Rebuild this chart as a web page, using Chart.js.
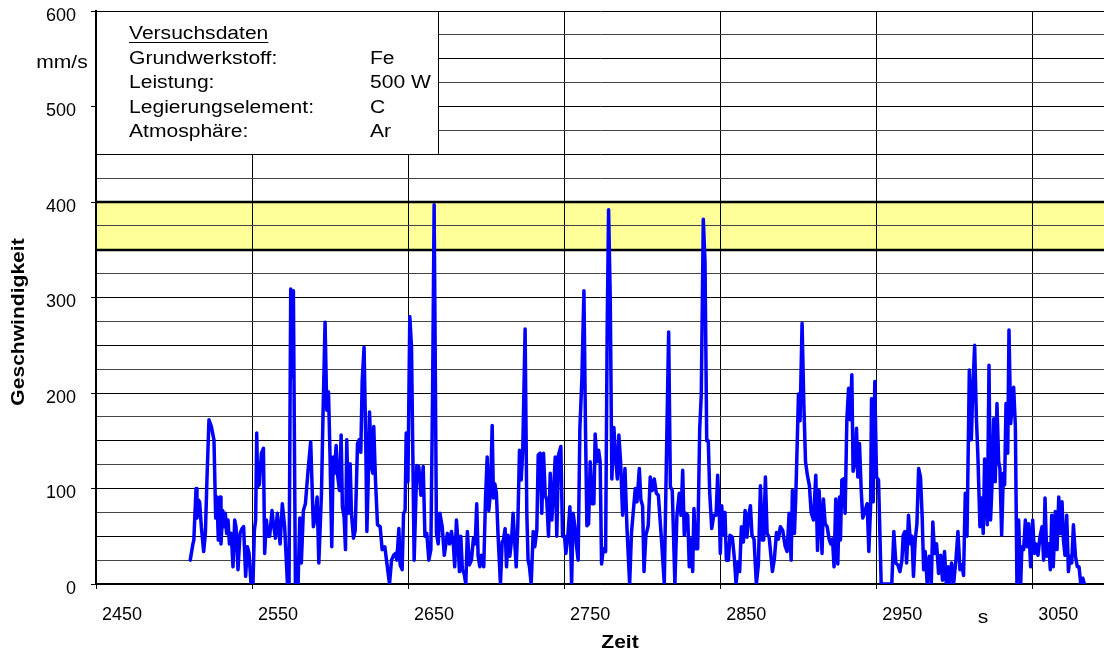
<!DOCTYPE html>
<html>
<head>
<meta charset="utf-8">
<script src="https://cdn.jsdelivr.net/npm/chart.js@4.4.1/dist/chart.umd.min.js"></script>
<style>
  html, body { margin: 0; padding: 0; background: #ffffff; }
  #wrap { width: 1104px; height: 653px; }
</style>
</head>
<body>
<div id="wrap"><canvas id="c" width="1104" height="653"></canvas></div>
<script>
// ---------- data ----------
const times = [
2510.4,2512.1,2512.7,2514.1,2514.7,2515.6,2516.4,2517.5,2519.0,2520.1,2521.1,2522.4,2523.9,2525.6,2526.7,2527.5,2528.4,2529.5,2530.1,2531.2,
2532.0,2532.9,2533.7,2534.6,2535.5,2536.7,2537.8,2538.9,2539.7,2541.0,2542.3,2543.6,2544.6,2545.9,2547.0,2548.1,2549.3,2550.6,2551.5,2552.3,
2553.0,2553.6,2554.7,2556.0,2557.3,2558.1,2559.2,2560.3,2561.3,2562.8,2563.7,2565.0,2566.2,2568.0,2569.4,2570.9,2572.7,2573.7,2574.8,2575.6,
2576.5,2577.8,2579.5,2580.6,2581.6,2582.9,2584.2,2585.9,2587.6,2589.3,2590.6,2591.7,2592.8,
2594.5,2595.5,2596.8,2597.9,2599.0,2600.0,2601.1,2602.0,2602.8,2603.9,2604.7,2606.0,2607.1,2607.9,2609.0,2609.9,2610.7,2611.8,2612.9,2613.7,
2615.0,2616.1,2617.6,2618.6,2619.7,2620.6,2621.8,2622.9,2623.6,2624.4,2625.3,2626.5,2627.4,2628.0,2629.1,2630.4,2632.1,2633.4,2635.1,2636.4,
2638.1,2639.4,2640.7,2641.9,2642.8,2644.1,2644.9,2646.2,2647.1,2648.1,2648.8,2649.9,2651.1,2652.2,2653.9,2655.6,2656.9,2658.2,2659.7,2660.8,
2662.0,2663.3,2664.6,2665.7,2666.7,2668.2,2669.3,2670.4,2671.9,2673.2,
2675.2,2676.5,2677.8,2679.1,2679.9,2681.0,2682.1,2682.9,2683.8,2684.8,2685.9,2687.0,2688.0,2689.3,2690.6,2691.9,2693.0,2694.0,2694.9,2696.0,
2697.0,2698.5,2699.6,2700.7,2701.7,2702.8,2703.9,2704.7,2705.6,2706.6,2707.7,2709.2,2710.3,2711.1,2712.2,2713.1,2714.1,2715.2,2716.3,2717.3,
2718.4,2719.3,2720.3,2721.4,2722.5,2723.5,2725.0,2726.1,2726.9,2727.8,2728.9,2730.2,2731.2,2732.5,2733.4,2734.6,2735.7,2736.8,2737.9,2738.9,
2740.0,2741.1,2742.1,2743.2,2744.3,2745.3,2746.4,2747.9,2749.0,2750.3,2751.1,2752.2,2753.7,2754.8,2755.8,2756.9,
2758.0,2759.0,2760.1,2761.4,2762.7,2763.7,2764.6,2765.7,2766.7,2768.0,2769.1,2769.9,2771.0,2772.1,2773.1,2774.0,2775.1,2776.6,2777.6,2778.5,
2779.6,2780.6,2781.9,2783.0,2784.1,2785.1,2786.2,2787.5,2789.0,2790.3,2792.0,2793.2,2794.5,2795.6,2796.7,2798.2,2799.2,2800.3,2801.2,2802.4,
2803.9,2805.2,2806.5,2807.8,2809.1,2810.4,2812.5,2814.2,2815.9,2817.0,2818.1,2819.3,2821.0,2822.3,2823.8,2824.9,2826.0,2827.0,2828.1,2829.2,
2830.2,2831.3,2832.4,2833.2,2834.3,2835.6,2836.9,2837.9,2839.2,2840.3,
2841.4,2842.4,2843.3,2844.6,2845.9,2847.4,2848.4,2849.5,2850.1,2851.0,2852.1,2853.1,2854.0,2855.3,2856.3,2857.8,2859.1,2860.2,2861.5,2862.5,
2863.6,2864.9,2866.0,2867.2,2868.3,2869.4,2870.4,2871.7,2873.2,2874.5,2875.8,2877.1,2877.9,2879.0,2880.1,2881.4,2883.5,2884.8,2886.1,2887.3,
2888.6,2890.1,2891.6,2892.9,2894.2,2895.5,2896.3,2897.6,2898.5,2899.3,2900.2,2901.2,2902.5,2903.6,2904.7,2905.9,2907.2,2908.3,2909.8,2911.3,
2912.4,2913.4,2914.5,2915.3,2916.2,2917.3,2918.6,2919.8,2920.9,2922.0,2923.0,2924.1,2925.4,2926.5,
2927.1,2928.0,2929.0,2930.1,2931.2,2932.3,2933.3,2934.4,2935.2,2936.5,2937.4,2938.2,2939.3,2940.4,2941.4,2942.9,2944.2,2945.3,2946.4,2947.0,
2948.1,2949.1,2950.2,2951.5,2953.2,2955.8,2957.9,2960.0,2961.3,2962.6,2963.9,2965.2,2966.5,2967.3,2968.4,2969.5,2970.7,2972.0,2972.9,2973.9,
2975.0,2976.1,2977.2,2978.4,2979.5,2980.4,2981.4,2982.7,2984.0,2985.3,2986.3,2987.4,2988.7,2990.0,2991.3,2992.5,2993.8,2994.9,2996.0,2997.0,
2998.3,2999.6,3001.1,3002.4,3003.7,3004.9,3006.0,3007.1,3008.2,
3009.7,3011.0,3011.8,3013.1,3014.2,3015.2,3016.5,3017.6,3018.6,3019.5,3020.4,3021.2,3022.3,3023.3,3024.2,3025.3,3026.3,3027.4,3028.5,3029.3,
3030.4,3031.5,3032.3,3033.2,3034.3,3035.1,3036.2,3037.0,3038.1,3039.2,3040.2,3041.3,3042.6,3043.4,3044.5,3045.6,3046.7,3047.7,3049.0,3050.3,
3051.4,3052.4,3053.7,3055.0,3056.3,3057.3,3058.2,3059.3,3060.6,3061.6,3062.5,3063.5,3064.8,3065.9,3067.0,3068.0,3069.1,3070.0,3071.0,3072.1,
3073.2,3074.2,3075.3,3076.4,3077.7,3078.9,3080.0,3081.1,3082.4,3083.4
];
const speeds = [
25,42,46,100,69,88,86,60,34,53,109,172,165,151,69,91,46,91,42,77,
60,74,53,67,42,53,18,67,60,15,53,58,60,8,39,32,1,0,56,67,
158,102,104,137,142,32,67,50,50,77,63,48,74,42,84,60,0,0,309,217,
307,0,0,69,22,77,84,119,149,60,70,91,22,
95,178,274,182,201,133,39,133,116,145,116,98,156,81,70,36,151,74,126,74,
48,56,147,151,138,213,248,147,55,105,180,123,116,165,109,62,60,36,39,22,
0,25,30,32,25,58,20,15,74,77,158,107,280,248,25,124,123,93,123,50,
53,25,36,199,397,53,42,74,60,30,
53,42,55,39,18,67,42,13,50,15,11,0,55,20,25,48,42,84,29,18,
30,18,88,133,77,95,166,90,105,95,50,0,44,46,58,18,51,29,46,74,
42,18,60,140,109,140,267,74,25,18,0,55,39,56,135,137,74,137,93,88,
50,116,67,95,133,50,135,144,50,50,32,46,81,0,74,60,
39,25,163,215,307,163,61,63,128,84,84,157,128,140,128,21,37,34,267,392,
295,110,164,133,110,156,128,72,121,58,0,54,79,100,86,121,88,82,13,51,
61,112,98,110,95,93,44,0,163,264,102,98,0,72,95,72,119,51,74,72,
18,47,13,79,37,37,163,198,382,337,
150,150,96,58,72,72,114,72,32,82,51,75,25,25,51,49,27,0,23,13,
60,44,77,49,72,82,51,47,0,20,103,46,46,112,53,49,13,27,54,47,
60,56,40,34,74,25,98,53,93,142,199,171,273,191,128,114,103,75,67,114,
35,98,65,32,89,63,60,47,42,47,18,89,21,91,
46,109,110,74,172,205,172,219,118,128,163,112,147,98,69,77,84,34,81,194,
86,212,112,109,0,0,0,0,55,22,20,13,25,51,55,22,72,42,50,8,
46,63,121,112,69,15,34,0,29,0,65,32,42,11,30,4,34,0,18,0,
22,0,25,55,15,20,9,95,50,
224,151,199,250,175,133,60,90,53,131,109,62,229,67,102,173,107,189,128,121,
51,116,104,189,137,266,168,185,206,165,0,67,0,39,36,67,39,63,18,67,
32,42,30,50,60,25,90,29,42,15,72,18,76,36,91,53,86,46,30,72,
13,29,22,62,29,18,18,0,6,0
];
const xTickValues = [2450, 2550, 2650, 2750, 2850, 2950, 3050];
const yGridValues = [0,25,50,75,100,125,150,175,200,225,250,275,300,325,350,375,400,425,450,475,500,525,550,575,600];
const yLabelValues = [0, 100, 200, 300, 400, 500, 600];
const bandLow = 350;
const bandHigh = 400;
const xMin = 2450, xMax = 3096;
const yUnit = 'mm/s';
const xUnit = 's';
const xTitle = 'Zeit';
const yTitle = 'Geschwindigkeit';
const legendTitle = 'Versuchsdaten';
const legendLabels = ['Grundwerkstoff:', 'Leistung:', 'Legierungselement:', 'Atmosphäre:'];
const legendValues = ['Fe', '500 W', 'C', 'Ar'];

// ---------- drawing ----------
const FONT = '"Liberation Sans", Arial, Helvetica, sans-serif';
const STRETCH = 1.17;

function stretchText(ctx, text, x, y, sx, align, font) {
  ctx.save();
  ctx.font = font;
  ctx.translate(x, y);
  ctx.scale(sx, 1);
  ctx.textAlign = align;
  ctx.textBaseline = 'alphabetic';
  ctx.fillStyle = '#000';
  ctx.fillText(text, 0, 0);
  ctx.restore();
}

const decoPlugin = {
  id: 'deco',
  beforeDraw(chart) {
    const {ctx, chartArea: a, scales: {y}} = chart;
    const y1 = y.getPixelForValue(bandHigh), y2 = y.getPixelForValue(bandLow);
    ctx.save();
    ctx.fillStyle = '#FFFF99';
    ctx.fillRect(a.left, y1, a.right - a.left, y2 - y1);
    ctx.restore();
  },
  beforeDatasetsDraw(chart) {
    const {ctx, chartArea: a, scales: {y}} = chart;
    ctx.save();
    ctx.strokeStyle = '#000';
    ctx.lineWidth = 2.5;
    [bandHigh, bandLow].forEach(v => {
      const py = Math.round(y.getPixelForValue(v));
      ctx.beginPath();
      ctx.moveTo(a.left, py);
      ctx.lineTo(a.right, py);
      ctx.stroke();
    });
    ctx.restore();

    // legend box
    const bx = a.left, by = a.top, bw = 438 - a.left, bh = 154 - a.top;
    ctx.save();
    ctx.fillStyle = '#fff';
    ctx.fillRect(bx, by, bw, bh);
    ctx.strokeStyle = '#000';
    ctx.lineWidth = 1;
    ctx.strokeRect(bx + 0.5, by + 0.5, bw, bh);
    ctx.restore();

    const f = '18px ' + FONT;
    stretchText(ctx, legendTitle, 129, 39, STRETCH, 'left', f);
    ctx.save();
    ctx.font = f;
    const w = ctx.measureText(legendTitle).width * STRETCH;
    ctx.strokeStyle = '#000';
    ctx.lineWidth = 1.2;
    ctx.beginPath();
    ctx.moveTo(129, 42.5);
    ctx.lineTo(129 + w, 42.5);
    ctx.stroke();
    ctx.restore();
    legendLabels.forEach((lab, i) => {
      const base = 64 + i * 24.4;
      stretchText(ctx, lab, 129, base, STRETCH, 'left', f);
      stretchText(ctx, legendValues[i], 370, base, STRETCH, 'left', f);
    });
  },
  afterDraw(chart) {
    const {ctx} = chart;
    const f = '18px ' + FONT;
    stretchText(ctx, yUnit, 62, 68, STRETCH, 'center', f);
    stretchText(ctx, xUnit, 983, 623, STRETCH, 'center', f);
    stretchText(ctx, xTitle, 620, 648, STRETCH, 'center', 'bold 18px ' + FONT);
    ctx.save();
    ctx.translate(24, 322);
    ctx.rotate(-Math.PI / 2);
    stretchText(ctx, yTitle, 0, 0, STRETCH, 'center', 'bold 18px ' + FONT);
    ctx.restore();
  }
};

const ctxEl = document.getElementById('c');
new Chart(ctxEl, {
  type: 'line',
  data: {
    datasets: [{
      data: times.map((t, i) => ({x: t, y: speeds[i]})),
      borderColor: '#0000FF',
      borderWidth: 3.5,
      pointRadius: 0,
      tension: 0,
      fill: false,
      borderJoinStyle: 'round',
      borderCapStyle: 'round'
    }]
  },
  options: {
    responsive: false,
    animation: false,
    devicePixelRatio: 1,
    layout: { padding: { top: 11, right: 0, left: 0, bottom: 0 } },
    plugins: { legend: { display: false }, tooltip: { enabled: false }, title: { display: false } },
    scales: {
      x: {
        type: 'linear',
        min: xMin,
        max: xMax,
        afterBuildTicks: s => { s.ticks = xTickValues.map(v => ({value: v})); },
        afterFit: s => { s.height = 69; s.paddingLeft = 0; s.paddingRight = 0; },
        ticks: {
          autoSkip: false,
          maxRotation: 0,
          align: 'start',
          labelOffset: 6,
          padding: 15,
          color: '#000',
          font: { family: FONT, size: 18 },
          callback: v => String(v)
        },
        grid: { color: '#000', lineWidth: 1, tickLength: 5, tickColor: '#000' },
        border: { color: '#000', width: 1.5 }
      },
      y: {
        type: 'linear',
        min: 0,
        max: 600,
        afterBuildTicks: s => { s.ticks = yGridValues.map(v => ({value: v})); },
        afterFit: s => { s.width = 96; s.paddingTop = 0; s.paddingBottom = 0; },
        ticks: {
          autoSkip: false,
          padding: 15,
          labelOffset: 5,
          color: '#000',
          font: { family: FONT, size: 18 },
          callback: v => (yLabelValues.includes(v) ? String(v) : '')
        },
        grid: {
          color: ctx => (ctx.tick && ctx.tick.value % 50 === 0 ? '#000' : '#444'),
          lineWidth: 1,
          tickLength: 5,
          tickColor: ctx => (ctx.tick && yLabelValues.includes(ctx.tick.value) ? '#000' : 'rgba(0,0,0,0)')
        },
        border: { color: '#000', width: 2 }
      }
    }
  },
  plugins: [decoPlugin]
});
</script>
</body>
</html>
